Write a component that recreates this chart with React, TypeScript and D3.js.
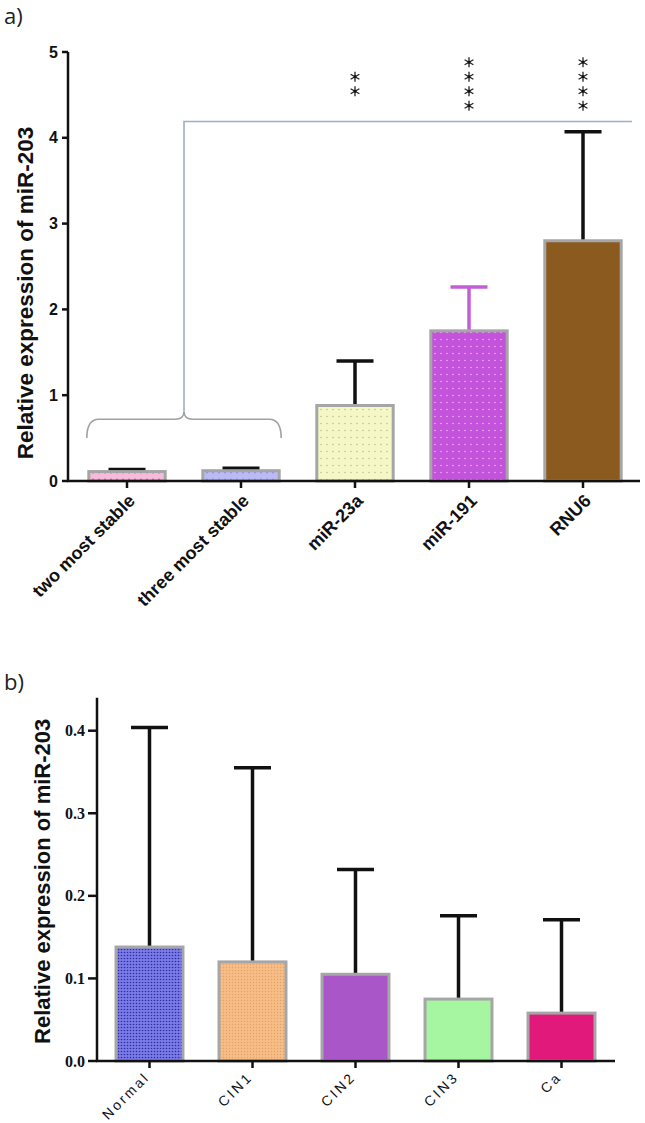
import * as d3 from 'd3';

// Panel a — miR-203 relative expression per normaliser
const A_CATEGORIES = ['two most stable', 'three most stable', 'miR-23a', 'miR-191', 'RNU6'];
const A_MEANS = [0.11, 0.12, 0.88, 1.75, 2.8];
const A_UPPER = [0.135, 0.15, 1.4, 2.26, 4.07]; // top of error bar
const A_STARS = [0, 0, 2, 4, 4];
const A_TICKS = [0, 1, 2, 3, 4, 5];
const A_BRACKET_LEVEL = 4.19;
const A_BRACE = { end: 0.5, top: 0.72, peak: 0.81 };

// Panel b — miR-203 by lesion grade
const B_CATEGORIES = ['Normal', 'CIN1', 'CIN2', 'CIN3', 'Ca'];
const B_MEANS = [0.138, 0.12, 0.105, 0.075, 0.058];
const B_UPPER = [0.404, 0.355, 0.232, 0.176, 0.171];
const B_TICKS = [0, 0.1, 0.2, 0.3, 0.4];

const A_FILLS = ['url(#pPink)', 'url(#pLav)', 'url(#pYel)', 'url(#pPur)', '#8b5a1f'];
const A_ERR_COLORS = ['#111', '#111', '#111', '#c25fd6', '#111'];
const B_FILLS = ['url(#pBlue)', 'url(#pOrange)', '#a956c9', '#a6f5a0', '#e0197b'];
const BORDER = '#a6a6a6';
const BRACKET = '#9cb0c6';

const SANS = '"Liberation Sans", Arial, sans-serif';
const SERIF = '"Liberation Serif", "Times New Roman", serif';

function DotPattern({ id, base, dot, w, h, r }: { id: string; base: string; dot: string; w: number; h: number; r: number }) {
  return (
    <pattern id={id} width={w} height={h} patternUnits="userSpaceOnUse">
      <rect width={w} height={h} fill={base} />
      <circle cx={w / 2} cy={h / 2} r={r} fill={dot} />
    </pattern>
  );
}

export default function App() {
  // ---- panel a scales
  const xA = d3.scaleBand<string>().domain(A_CATEGORIES).range([70, 640]).paddingInner(0.33).paddingOuter(0.165);
  const yA = d3.scaleLinear().domain([0, 5]).range([481, 52]);
  const axisAX = 68;

  // ---- panel b scales
  const xB = d3.scaleBand<string>().domain(B_CATEGORIES).range([98, 613]).paddingInner(0.35).paddingOuter(0.175);
  const yB = d3.scaleLinear().domain([0, 0.44]).range([1061, 1061 - 0.44 * 825.75]);
  const axisBX = 97;

  const capA = 37;
  const capB = 37;
  const starStep = 14.5;
  const starMid = 84;
  const starPath = d3.symbol(d3.symbolAsterisk, 72)() ?? '';

  // brace over first two bars
  const bl = (xA(A_CATEGORIES[0]) ?? 0) - 2;
  const br = (xA(A_CATEGORIES[1]) ?? 0) + xA.bandwidth() + 2;
  const bc = (bl + br) / 2;
  const yEnd = yA(A_BRACE.end);
  const yTop = yA(A_BRACE.top);
  const yPeak = yA(A_BRACE.peak);
  const bracePath = `M${bl},${yEnd} Q${bl},${yTop} ${bl + 12},${yTop} L${bc - 9},${yTop} Q${bc},${yTop} ${bc},${yPeak} Q${bc},${yTop} ${bc + 9},${yTop} L${br - 12},${yTop} Q${br},${yTop} ${br},${yEnd}`;
  const bracketY = yA(A_BRACKET_LEVEL);

  return (
    <svg width={645} height={1123} style={{ position: 'absolute', left: 0, top: 0, background: '#fff' }}>
      <defs>
        <DotPattern id="pPink" base="#f7badd" dot="#c9488f" w={6} h={7} r={0.9} />
        <DotPattern id="pLav" base="#babaf5" dot="#8a8ae2" w={6} h={7} r={0.9} />
        <DotPattern id="pYel" base="#f5f8c6" dot="#bfc48a" w={6} h={7} r={0.8} />
        <DotPattern id="pPur" base="#c253da" dot="#eeb2f4" w={6} h={7} r={0.8} />
        <DotPattern id="pBlue" base="#7a7ae8" dot="#2e2ea0" w={3} h={3} r={0.8} />
        <DotPattern id="pOrange" base="#f7bd86" dot="#e5a267" w={3} h={3} r={0.7} />
      </defs>

      {/* ================= panel a ================= */}
      <text x={4} y={24} fontFamily='"Open Sans", sans-serif' fontSize={22} fill="#222">a)</text>

      {/* significance bracket */}
      <path d={bracePath} fill="none" stroke="#a0a0a0" strokeWidth={1.6} />
      <path d={`M${bc},${yPeak} L${bc},${bracketY} L${xA.range()[1] - 8},${bracketY}`} fill="none" stroke={BRACKET} strokeWidth={1.6} />

      {A_CATEGORIES.map((c, i) => {
        const x0 = xA(c) ?? 0;
        const cx = x0 + xA.bandwidth() / 2;
        const n = A_STARS[i];
        return (
          <g key={c}>
            <line x1={cx} x2={cx} y1={yA(A_MEANS[i])} y2={yA(A_UPPER[i])} stroke={A_ERR_COLORS[i]} strokeWidth={3.5} />
            <line x1={cx - capA / 2} x2={cx + capA / 2} y1={yA(A_UPPER[i])} y2={yA(A_UPPER[i])} stroke={A_ERR_COLORS[i]} strokeWidth={3.5} />
            <rect x={x0} y={yA(A_MEANS[i])} width={xA.bandwidth()} height={yA(0) - yA(A_MEANS[i])}
              fill={A_FILLS[i]} stroke={BORDER} strokeWidth={3} />
            <line x1={cx} x2={cx} y1={yA(0)} y2={yA(0) + 7} stroke="#111" strokeWidth={2.5} />
            <text transform={`translate(${cx + 9},${yA(0) + 21}) rotate(-45)`} textAnchor="end"
              fontFamily={SANS} fontWeight="bold" fontSize={18} fill="#111">{c}</text>
            {d3.range(n).map((k) => (
              <g key={k} transform={`translate(${cx},${starMid - ((n - 1) * starStep) / 2 + k * starStep})`}>
                <path d={starPath} fill="none" stroke="#222" strokeWidth={1.3} />
                <circle r={1.4} fill="#111" />
              </g>
            ))}
          </g>
        );
      })}

      {/* axes a */}
      <line x1={axisAX} x2={axisAX} y1={yA(5)} y2={yA(0)} stroke="#111" strokeWidth={2.5} />
      <line x1={axisAX - 1} x2={640} y1={yA(0)} y2={yA(0)} stroke="#111" strokeWidth={2.5} />
      {A_TICKS.map((t) => (
        <g key={t}>
          <line x1={axisAX - 6} x2={axisAX} y1={yA(t)} y2={yA(t)} stroke="#111" strokeWidth={2.5} />
          <text x={axisAX - 10} y={yA(t)} dy="0.35em" textAnchor="end" fontFamily={SANS} fontWeight="bold" fontSize={16} fill="#111">{t}</text>
        </g>
      ))}
      <text transform={`translate(33,293) rotate(-90)`} textAnchor="middle"
        fontFamily={SANS} fontWeight="bold" fontSize={22.5} fill="#111">Relative expression of miR-203</text>

      {/* ================= panel b ================= */}
      <text x={4} y={690} fontFamily='"Open Sans", sans-serif' fontSize={22} fill="#222">b)</text>

      {B_CATEGORIES.map((c, i) => {
        const x0 = xB(c) ?? 0;
        const cx = x0 + xB.bandwidth() / 2;
        return (
          <g key={c}>
            <line x1={cx} x2={cx} y1={yB(B_MEANS[i])} y2={yB(B_UPPER[i])} stroke="#111" strokeWidth={3.5} />
            <line x1={cx - capB / 2} x2={cx + capB / 2} y1={yB(B_UPPER[i])} y2={yB(B_UPPER[i])} stroke="#111" strokeWidth={3.5} />
            <rect x={x0} y={yB(B_MEANS[i])} width={xB.bandwidth()} height={yB(0) - yB(B_MEANS[i])}
              fill={B_FILLS[i]} stroke={BORDER} strokeWidth={3} />
            <line x1={cx} x2={cx} y1={yB(0)} y2={yB(0) + 7} stroke="#111" strokeWidth={2.5} />
            <text transform={`translate(${cx + 1},${yB(0) + 17}) rotate(-45)`} textAnchor="end"
              fontFamily={SANS} fontSize={14} letterSpacing={2.5} fill="#111">{c}</text>
          </g>
        );
      })}

      {/* axes b */}
      <line x1={axisBX} x2={axisBX} y1={yB(0.44)} y2={yB(0)} stroke="#111" strokeWidth={2.5} />
      <line x1={axisBX - 1} x2={615} y1={yB(0)} y2={yB(0)} stroke="#111" strokeWidth={2.5} />
      {B_TICKS.map((t) => (
        <g key={t}>
          <line x1={axisBX - 9} x2={axisBX} y1={yB(t)} y2={yB(t)} stroke="#111" strokeWidth={2.5} />
          <text x={axisBX - 12} y={yB(t)} dy="0.35em" textAnchor="end" fontFamily={SERIF} fontWeight="bold" fontSize={16} fill="#111">{d3.format('.1f')(t)}</text>
        </g>
      ))}
      <text transform={`translate(50,${(yB(0.44) + yB(0)) / 2 + 2}) rotate(-90)`} textAnchor="middle"
        fontFamily={SANS} fontWeight="bold" fontSize={22} fill="#111">Relative expression of miR-203</text>
    </svg>
  );
}
